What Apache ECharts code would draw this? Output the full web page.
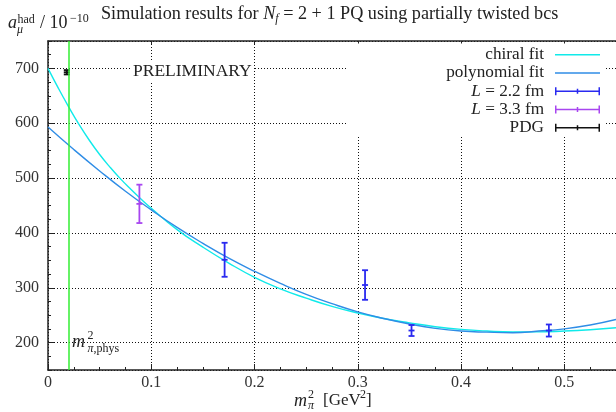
<!DOCTYPE html>
<html>
<head>
<meta charset="utf-8">
<script src="https://cdn.jsdelivr.net/npm/echarts@6/dist/echarts.min.js"></script>
<style>
html, body { margin: 0; padding: 0; background: #fff; }
#main { width: 616px; height: 412px; }
</style>
</head>
<body>
<div id="main"></div>
<script>
// chiral fit
var chiralX = [0, 0.01, 0.02, 0.03, 0.04, 0.05, 0.06, 0.07, 0.08, 0.09, 0.1, 0.125, 0.15, 0.175, 0.2, 0.225, 0.25, 0.275, 0.3, 0.325, 0.35, 0.375, 0.4, 0.425, 0.45, 0.475, 0.5, 0.525, 0.55];
var chiralY = [700, 664, 630, 598, 569, 543, 520, 499, 480, 462, 445, 406, 374, 345, 319, 298, 281, 266, 254, 244, 236, 229, 224, 221, 219.5, 219.5, 221, 223.5, 227];
// polynomial fit
var polyX = [0, 0.025, 0.05, 0.075, 0.1, 0.125, 0.15, 0.175, 0.2, 0.225, 0.25, 0.275, 0.3, 0.325, 0.35, 0.375, 0.4, 0.425, 0.45, 0.475, 0.5, 0.525, 0.55];
var polyY = [593, 552, 513, 476, 442, 410, 381, 354, 330, 308, 288, 271, 256, 244, 234, 226, 221, 219, 218, 221, 225, 232, 242];
// lattice points with errors
var l22X = [0.171, 0.307, 0.352, 0.485];
var l22Y = [351, 305, 222, 222];
var l22Err = [31, 27, 10, 11];
var l33X = [0.0885];
var l33Y = [453];
var l33Err = [35];
var pdgX = [0.0182];
var pdgY = [693];
var pdgErr = [4];
var physMass = 0.0182;

var SERIF = 'Liberation Serif';
var TXT = '#222';

function pairs(xs, ys) { return xs.map(function (x, i) { return [x, ys[i]]; }); }
function triples(xs, ys, es) { return xs.map(function (x, i) { return [x, ys[i], es[i]]; }); }

function errorBar(params, api) {
    var x = api.value(0), y = api.value(1), e = api.value(2);
    var top = api.coord([x, y + e]);
    var bot = api.coord([x, y - e]);
    var c = api.coord([x, y]);
    var col = api.visual('color');
    var st = { stroke: col, lineWidth: 1.8 };
    return {
        type: 'group',
        children: [
            { type: 'line', shape: { x1: top[0], y1: top[1], x2: bot[0], y2: bot[1] }, style: st },
            { type: 'line', shape: { x1: top[0] - 3, y1: top[1], x2: top[0] + 3, y2: top[1] }, style: st },
            { type: 'line', shape: { x1: bot[0] - 3, y1: bot[1], x2: bot[0] + 3, y2: bot[1] }, style: st },
            { type: 'line', shape: { x1: c[0] - 3, y1: c[1], x2: c[0] + 3, y2: c[1] }, style: st }
        ]
    };
}

var lineIcon = 'path://M0,0h45v1.5h-45z';
var barIcon = 'path://M0,3.25h45v1.5h-45z M0,0h1.5v8h-1.5z M43.5,0h1.5v8h-1.5z M21.75,1.5h1.5v5h-1.5z';

var legendNames = {
    'chiral fit': 'chiral fit',
    'polynomial fit': 'polynomial fit',
    'L = 2.2 fm': '{i|L} = 2.2 fm',
    'L = 3.3 fm': '{i|L} = 3.3 fm',
    'PDG': 'PDG'
};

var myChart = echarts.init(document.getElementById('main'));
var option = {
    animation: false,
    backgroundColor: '#fff',
    grid: { left: 48, top: 41, right: -4, bottom: 42 },
    xAxis: [{
        type: 'value', min: 0, max: 0.55, interval: 0.1, position: 'bottom',
        axisLine: { lineStyle: { color: TXT, width: 1.5 } },
        axisTick: { inside: true, length: 6, lineStyle: { color: TXT } },
        splitLine: { show: true, lineStyle: { type: [1, 2], color: '#111', width: 1 } },
        axisLabel: {
            fontFamily: SERIF, fontSize: 16, color: '#333', margin: 5, showMaxLabel: false,
            formatter: function (v) { return v === 0 ? '0' : v.toFixed(1); }
        }
    }, {
        // top border
        type: 'value', min: 0, max: 0.55, interval: 0.1, position: 'top',
        axisLine: { lineStyle: { color: TXT, width: 1.5 } },
        axisTick: { inside: true, length: 3, lineStyle: { color: TXT } },
        axisLabel: { show: false }, splitLine: { show: false }
    }, {
        // minor ticks
        type: 'value', min: 0, max: 0.55, interval: 0.025, position: 'bottom',
        axisLine: { show: false },
        axisTick: { inside: true, length: 3, lineStyle: { color: TXT } },
        axisLabel: { show: false }, splitLine: { show: false }
    }],
    yAxis: [{
        type: 'value', min: 150, max: 750, splitNumber: 6,
        axisLine: { show: true, lineStyle: { color: TXT, width: 1.5 } },
        axisTick: { show: true, inside: true, length: 6, lineStyle: { color: TXT } },
        splitLine: { show: true, lineStyle: { type: [1, 2], color: '#111', width: 1 } },
        axisLabel: { fontFamily: SERIF, fontSize: 16, color: '#333', margin: 9, showMinLabel: false, showMaxLabel: false }
    }, {
        // minor ticks
        type: 'value', min: 150, max: 750, interval: 25, position: 'left',
        axisLine: { show: false },
        axisTick: { show: true, inside: true, length: 3, lineStyle: { color: TXT } },
        axisLabel: { show: false }, splitLine: { show: false }
    }],
    legend: {
        orient: 'vertical', align: 'right', right: 11, top: 43.5,
        itemWidth: 45, itemHeight: 8, itemGap: 0,
        padding: [2, 5, 0, 99],
        backgroundColor: '#fff',
        selectedMode: false,
        textStyle: {
            fontFamily: SERIF, fontSize: 17.2, color: TXT, lineHeight: 18.3,
            rich: {
                i: { fontFamily: SERIF, fontSize: 17.2, fontStyle: 'italic', lineHeight: 18.3, color: TXT },
                g: { width: 6, lineHeight: 18.3 }
            }
        },
        formatter: function (name) { return legendNames[name] + '{g| }'; },
        data: [
            { name: 'chiral fit', icon: lineIcon },
            { name: 'polynomial fit', icon: lineIcon },
            { name: 'L = 2.2 fm', icon: barIcon },
            { name: 'L = 3.3 fm', icon: barIcon },
            { name: 'PDG', icon: barIcon }
        ]
    },
    graphic: [
        // title
        {
            type: 'text', left: 101, top: 3, z: 10,
            style: {
                text: 'Simulation results for {i|N}{s|f} = 2 + 1 PQ using partially twisted bcs',
                fontFamily: SERIF, fontSize: 18.2, fill: TXT, lineHeight: 22,
                rich: {
                    i: { fontFamily: SERIF, fontSize: 18.2, fontStyle: 'italic', lineHeight: 22 },
                    s: { fontFamily: SERIF, fontSize: 12, fontStyle: 'italic', lineHeight: 11, verticalAlign: 'bottom' }
                }
            }
        },
        // y axis name
        { type: 'text', x: 8, y: 23, z: 10, style: { text: 'a', fontFamily: SERIF, fontSize: 18, fontStyle: 'italic', fill: TXT, verticalAlign: 'middle' } },
        { type: 'text', x: 17.5, y: 19.5, z: 10, style: { text: 'had', fontFamily: SERIF, fontSize: 12, fill: TXT, verticalAlign: 'middle' } },
        { type: 'text', x: 17, y: 29.5, z: 10, style: { text: 'μ', fontFamily: SERIF, fontSize: 12, fontStyle: 'italic', fill: TXT, verticalAlign: 'middle' } },
        { type: 'text', x: 40, y: 23, z: 10, style: { text: '/ 10', fontFamily: SERIF, fontSize: 18, fill: TXT, verticalAlign: 'middle' } },
        { type: 'text', x: 70, y: 19, z: 10, style: { text: '−10', fontFamily: SERIF, fontSize: 12, fill: TXT, verticalAlign: 'middle' } },
        // x axis name
        { type: 'text', x: 294, y: 401, z: 10, style: { text: 'm', fontFamily: SERIF, fontSize: 18, fontStyle: 'italic', fill: TXT, verticalAlign: 'middle' } },
        { type: 'text', x: 308, y: 395, z: 10, style: { text: '2', fontFamily: SERIF, fontSize: 12, fill: TXT, verticalAlign: 'middle' } },
        { type: 'text', x: 308, y: 406, z: 10, style: { text: 'π', fontFamily: SERIF, fontSize: 12, fontStyle: 'italic', fill: TXT, verticalAlign: 'middle' } },
        { type: 'text', x: 323, y: 401, z: 10, style: { text: '[GeV', fontFamily: SERIF, fontSize: 17, fill: TXT, verticalAlign: 'middle' } },
        { type: 'text', x: 360, y: 395, z: 10, style: { text: '2', fontFamily: SERIF, fontSize: 12, fill: TXT, verticalAlign: 'middle' } },
        { type: 'text', x: 366, y: 401, z: 10, style: { text: ']', fontFamily: SERIF, fontSize: 17, fill: TXT, verticalAlign: 'middle' } },
        // physical point label
        { type: 'text', x: 72, y: 342, z: 10, style: { text: 'm', fontFamily: SERIF, fontSize: 18, fontStyle: 'italic', fill: TXT, verticalAlign: 'middle' } },
        { type: 'text', x: 87.5, y: 335.5, z: 10, style: { text: '2', fontFamily: SERIF, fontSize: 12, fill: TXT, verticalAlign: 'middle' } },
        { type: 'text', x: 87.5, y: 348.5, z: 10, style: { text: '{i|π},phys', fontFamily: SERIF, fontSize: 12, fill: TXT, verticalAlign: 'middle', rich: { i: { fontFamily: SERIF, fontSize: 12, fontStyle: 'italic' } } } },
        // preliminary stamp
        {
            type: 'text', x: 131, y: 71, z: 10,
            style: { text: 'PRELIMINARY', fontFamily: SERIF, fontSize: 17.5, fill: TXT, verticalAlign: 'middle', backgroundColor: '#fff', padding: [1, 2, 1, 2] }
        }
    ],
    series: [{
        name: 'physical point',
        type: 'line',
        data: [],
        markLine: {
            silent: true, symbol: 'none', label: { show: false },
            lineStyle: { color: '#33ee33', width: 1.5, type: 'solid' },
            data: [{ xAxis: physMass }]
        }
    }, {
        name: 'chiral fit',
        type: 'line',
        smooth: true,
        symbol: 'none',
        data: pairs(chiralX, chiralY),
        itemStyle: { color: '#10eaea' },
        lineStyle: { color: '#10eaea', width: 1.4 },
        z: 3
    }, {
        name: 'polynomial fit',
        type: 'line',
        smooth: true,
        symbol: 'none',
        data: pairs(polyX, polyY),
        itemStyle: { color: '#2f8de6' },
        lineStyle: { color: '#2f8de6', width: 1.4 },
        z: 3
    }, {
        name: 'L = 2.2 fm',
        type: 'custom',
        renderItem: errorBar,
        itemStyle: { color: '#2a2af0' },
        encode: { x: 0, y: 1 },
        data: triples(l22X, l22Y, l22Err),
        z: 4
    }, {
        name: 'L = 3.3 fm',
        type: 'custom',
        renderItem: errorBar,
        itemStyle: { color: '#a846f0' },
        encode: { x: 0, y: 1 },
        data: triples(l33X, l33Y, l33Err),
        z: 4
    }, {
        name: 'PDG',
        type: 'custom',
        renderItem: errorBar,
        itemStyle: { color: '#111' },
        encode: { x: 0, y: 1 },
        data: triples(pdgX, pdgY, pdgErr),
        z: 4
    }]
};
myChart.setOption(option);
</script>
</body>
</html>
